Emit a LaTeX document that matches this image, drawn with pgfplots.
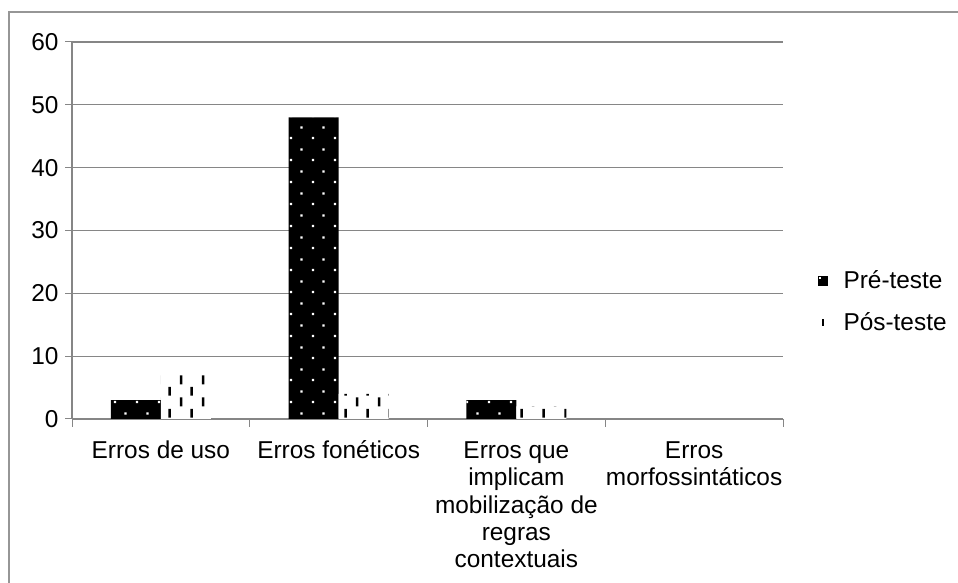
\documentclass[border=0pt]{standalone}
\usepackage{fontspec}
\setmainfont{Liberation Sans}
\usepackage{pgfplots}
\pgfplotsset{compat=1.18}
\usetikzlibrary{patterns.meta}
\definecolor{gridgray}{RGB}{134,134,134}
\definecolor{framegray}{RGB}{150,150,150}

% white dots over black (Pre-teste)
\pgfdeclarepattern{
  name=predots, type=uncolored,
  bottom left={\pgfpoint{0pt}{0pt}}, top right={\pgfpoint{11pt}{11pt}},
  tile size={\pgfpoint{11pt}{11pt}},
  code={
    \pgfpathrectangle{\pgfpoint{2pt}{2pt}}{\pgfpoint{1.2pt}{1.2pt}}
    \pgfpathrectangle{\pgfpoint{7.5pt}{7.5pt}}{\pgfpoint{1.2pt}{1.2pt}}
    \pgfusepath{fill}
  }}
% short vertical dashes (Pos-teste)
\pgfdeclarepattern{
  name=posdash, type=uncolored,
  bottom left={\pgfpoint{0pt}{0pt}}, top right={\pgfpoint{11pt}{11pt}},
  tile size={\pgfpoint{11pt}{11pt}},
  code={
    \pgfpathrectangle{\pgfpoint{2pt}{0.3pt}}{\pgfpoint{1.3pt}{4.6pt}}
    \pgfpathrectangle{\pgfpoint{7.5pt}{5.8pt}}{\pgfpoint{1.3pt}{4.6pt}}
    \pgfusepath{fill}
  }}
\newcommand{\fs}{\fontsize{12.2}{13.6}\selectfont}
\newcommand{\up}{\vphantom{É}}

\begin{document}
\fs
\begin{tikzpicture}
\begin{axis}[
    at={(0,0)}, anchor=south west,
    width=355.5pt, height=188.5pt, scale only axis,
    ybar=0pt, bar width=25pt,
    xmin=-0.5, xmax=3.5, ymin=0, ymax=60,
    ytick={0,10,...,60},
    xtick={0,1,2,3},
    xticklabels={\up Erros de uso, \up Erros fonéticos, {\up Erros que\\implicam\\mobilização de\\regras\\contextuais}, {\up Erros\\morfossintáticos}},
    minor xtick={-0.5,0.5,1.5,2.5,3.5},
    major x tick style={draw=none},
    tick align=outside,
    tick style={gridgray, line width=0.5pt},
    major tick length=3.5pt, minor tick length=4pt,
    axis x line*=bottom, axis y line*=left,
    axis line style={gridgray, line width=0.6pt, -},
    ymajorgrids, grid style={gridgray, line width=0.6pt},
    x tick label style={align=center, anchor=north, yshift=-1.5pt, font=\fs},
    y tick label style={font=\fs, xshift=1pt},
    /pgf/number format/assume math mode=true,
    legend style={at={(1.048,0.31)}, anchor=west, draw=none, fill=none,
      font=\fs, row sep=6pt, inner xsep=0pt},
    legend cell align=left,
]
\addplot[draw=none, fill=black, postaction={pattern={predots}, pattern color=white},
  legend image code/.code={\fill[black] (0pt,-2.5pt) rectangle (5pt,2.5pt);
    \fill[white] (0.9pt,1.3pt) rectangle (1.6pt,2pt); \path (11pt,0pt);}]
  coordinates {(0,3) (1,48) (2,3)};
\addplot[draw=none, fill=white, postaction={pattern={posdash}, pattern color=black},
  legend image code/.code={\fill[black] (2.2pt,-1.6pt) rectangle (3.3pt,1.8pt); \path (0pt,0pt) (11pt,0pt);}]
  coordinates {(0,7) (1,4) (2,2)};
\legend{Pré-teste, Pós-teste}
\end{axis}
\draw[framegray, line width=1pt] (-31.5pt,-82pt) -- (-31.5pt,203.5pt) -- (443pt,203.5pt);
\pgfresetboundingbox
\useasboundingbox (-36pt,-82pt) rectangle (443pt,209.5pt);
\end{tikzpicture}
\end{document}
